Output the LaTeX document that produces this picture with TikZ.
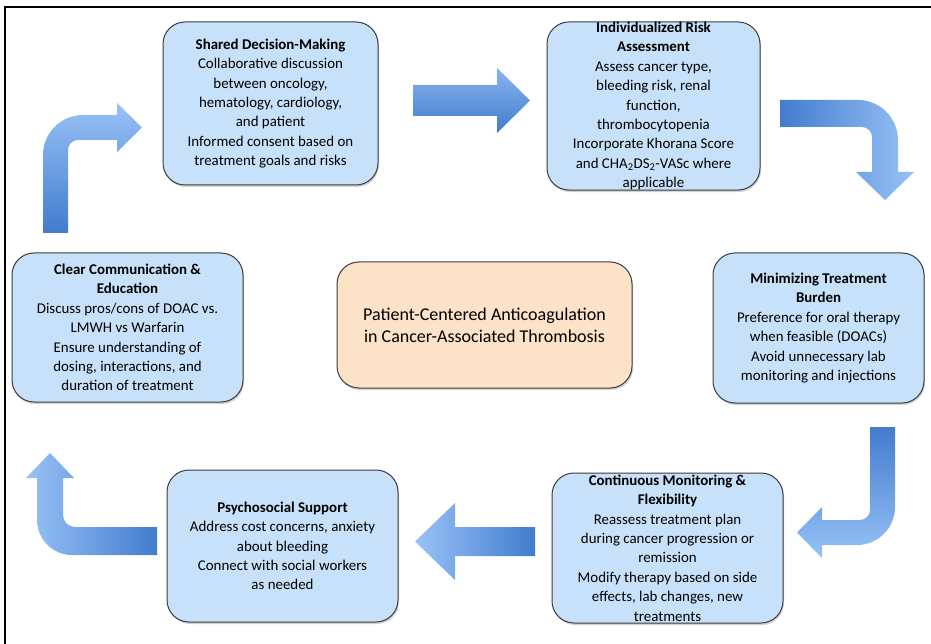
\documentclass[tikz,border=0pt]{standalone}
\usepackage{fontspec}
\setmainfont{Carlito}
\usetikzlibrary{shadows}
\definecolor{BoxClr}{RGB}{200,225,250}
\definecolor{CoreClr}{RGB}{252,226,198}
\definecolor{EdgeClr}{RGB}{60,60,60}
\definecolor{DarkArrClr}{RGB}{66,124,206}
\definecolor{LightArrClr}{RGB}{152,194,246}

\tikzset{
  stepbox/.style={draw=EdgeClr,line width=1pt,fill=BoxClr,rounded corners=22pt,
    align=center,inner sep=0pt,
    drop shadow={opacity=0.35,shadow xshift=1pt,shadow yshift=-2pt},
    font=\fontsize{14.9}{19.4}\selectfont},
  corebox/.style={stepbox,fill=CoreClr,font=\fontsize{18}{22}\selectfont},
  blockarrow/.style={draw=none}
}

\begin{document}
\begin{tikzpicture}[x=1pt,y=-1pt]
\useasboundingbox (0,0) rectangle (931,644);
\draw[line width=2pt] (5,650) -- (5,7) -- (940,7);

\node[stepbox,minimum width=215pt,minimum height=163pt] (shared) at (270.5,103.5)
  {\textbf{Shared Decision-Making}\\Collaborative discussion\\between oncology,\\hematology, cardiology,\\and patient\\Informed consent based on\\treatment goals and risks};
\node[stepbox,minimum width=213pt,minimum height=168pt] (risk) at (653.5,106)
  {\textbf{Individualized Risk}\\\textbf{Assessment}\\Assess cancer type,\\bleeding risk, renal\\function,\\thrombocytopenia\\Incorporate Khorana Score\\and CHA\textsubscript{2}DS\textsubscript{2}-VASc where\\applicable};
\node[stepbox,minimum width=211pt,minimum height=150pt] (burden) at (818.5,328)
  {\textbf{Minimizing Treatment}\\\textbf{Burden}\\Preference for oral therapy\\when feasible (DOACs)\\Avoid unnecessary lab\\monitoring and injections};
\node[stepbox,minimum width=231pt,minimum height=150pt] (monitor) at (667.5,548)
  {\textbf{Continuous Monitoring \&}\\\textbf{Flexibility}\\Reassess treatment plan\\during cancer progression or\\remission\\Modify therapy based on side\\effects, lab changes, new\\treatments};
\node[stepbox,minimum width=231pt,minimum height=152pt] (psycho) at (282.5,546)
  {\textbf{Psychosocial Support}\\Address cost concerns, anxiety\\about bleeding\\Connect with social workers\\as needed};
\node[stepbox,minimum width=231pt,minimum height=149pt] (comm) at (127.5,327.5)
  {\textbf{Clear Communication \&}\\\textbf{Education}\\Discuss pros/cons of DOAC vs.\\LMWH vs Warfarin\\Ensure understanding of\\dosing, interactions, and\\duration of treatment};
\node[corebox,minimum width=295pt,minimum height=126pt] (core) at (484.5,325)
  {Patient-Centered Anticoagulation\\in Cancer-Associated Thrombosis};

\path[blockarrow,top color=LightArrClr,bottom color=DarkArrClr]
  (43,233) -- (43,155) .. controls (43,133) and (61,115) .. (83,115) -- (117,115)
  -- (117,103) -- (142,127.5) -- (117,152) -- (117,140) -- (78,140)
  .. controls (72.5,140) and (68,144.5) .. (68,150) -- (68,233) -- cycle;
\path[blockarrow,top color=LightArrClr!80!DarkArrClr,bottom color=DarkArrClr]
  (413,85) -- (497,85) -- (497,68) -- (530,100.5) -- (497,133) -- (497,116) -- (413,116) -- cycle;
\path[blockarrow,left color=DarkArrClr,right color=LightArrClr]
  (780,100) -- (858,100) .. controls (880,100) and (898,118) .. (898,140) -- (898,172)
  -- (914,172) -- (885,200) -- (856,172) -- (872,172) -- (872,137)
  .. controls (872,131.5) and (867.5,127) .. (862,127) -- (780,127) -- cycle;
\path[blockarrow,top color=DarkArrClr,bottom color=LightArrClr]
  (870,427) -- (895,427) -- (895,507) .. controls (895,528) and (878,545) .. (857,545)
  -- (822,545) -- (822,558) -- (797,532.5) -- (822,507) -- (822,520) -- (860,520)
  .. controls (865.5,520) and (870,515.5) .. (870,510) -- cycle;
\path[blockarrow,left color=LightArrClr,right color=DarkArrClr]
  (535,527) -- (455,527) -- (455,503) -- (415,541.5) -- (455,580) -- (455,556) -- (535,556) -- cycle;
\path[blockarrow,left color=LightArrClr,right color=DarkArrClr]
  (157,527) -- (75,527) .. controls (68.4,527) and (63,521.6) .. (63,515) -- (63,478)
  -- (74,478) -- (50,453) -- (26,478) -- (37,478) -- (37,520)
  .. controls (37,539.3) and (52.7,555) .. (72,555) -- (157,555) -- cycle;
\end{tikzpicture}
\end{document}
